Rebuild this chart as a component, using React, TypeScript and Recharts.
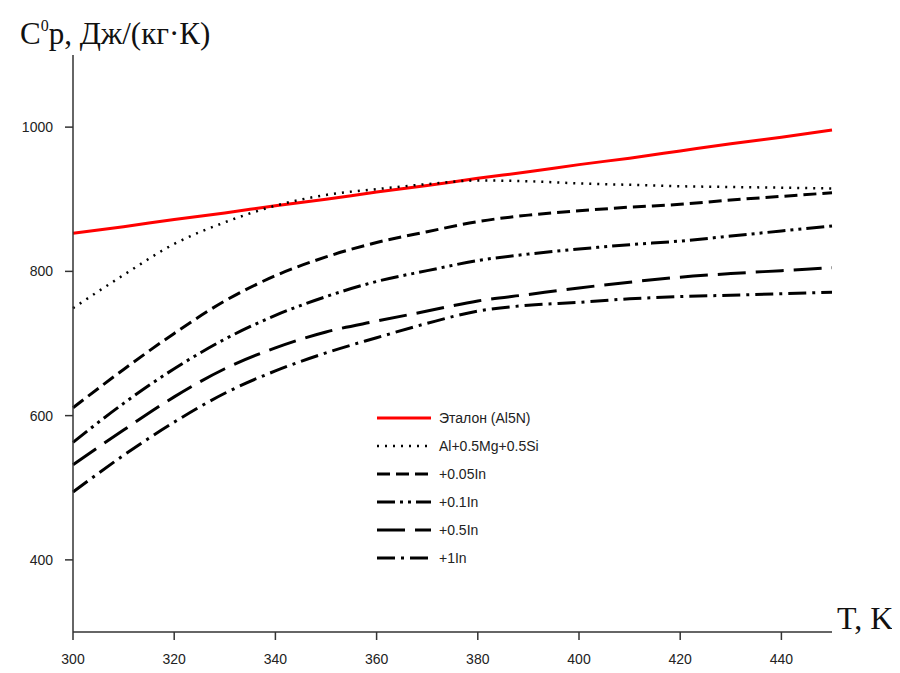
import { LineChart, Line, XAxis, YAxis } from 'recharts'

const temps = [300, 310, 320, 330, 340, 350, 360, 370, 380, 390, 400, 410, 420, 430, 440, 450]

const etalon = [853, 862, 872, 881, 891, 900, 910, 919, 929, 938, 948, 957, 967, 977, 986, 996]
const alMgSi = [749, 795, 838, 868, 891, 906, 914, 921, 926, 925, 922, 920, 918, 917, 916, 915]
const in005 = [611, 664, 714, 759, 794, 820, 840, 855, 869, 878, 884, 889, 893, 899, 904, 909]
const in01 = [563, 617, 665, 706, 739, 765, 786, 801, 815, 824, 831, 837, 842, 849, 856, 863]
const in05 = [532, 580, 626, 665, 694, 716, 731, 745, 759, 768, 777, 785, 792, 797, 801, 805]
const in1 = [494, 545, 591, 631, 662, 687, 708, 728, 745, 753, 757, 762, 765, 767, 769, 771]

const xTicks = [300, 320, 340, 360, 380, 400, 420, 440]
const yTicks = [400, 600, 800, 1000]

const data = temps.map((t, i) => ({
  t,
  etalon: etalon[i],
  alMgSi: alMgSi[i],
  in005: in005[i],
  in01: in01[i],
  in05: in05[i],
  in1: in1[i],
}))

const series = [
  { key: 'etalon', name: 'Эталон (Al5N)', color: '#ff0000', dash: undefined, width: 3 },
  { key: 'alMgSi', name: 'Al+0.5Mg+0.5Si', color: '#000', dash: '2 6', width: 2.5 },
  { key: 'in005', name: '+0.05In', color: '#000', dash: '13 6', width: 3 },
  { key: 'in01', name: '+0.1In', color: '#000', dash: '18 5 3 5 3 5', width: 3 },
  { key: 'in05', name: '+0.5In', color: '#000', dash: '28 10', width: 3 },
  { key: 'in1', name: '+1In', color: '#000', dash: '18 6 3 6', width: 3 },
]

const font = '"Liberation Sans", Arial, sans-serif'
const serif = '"Liberation Serif", "Times New Roman", serif'
const tickStyle = { fontSize: 14, fill: '#222', fontFamily: font }

function ChartLegend() {
  return (
    <div
      style={{
        position: 'absolute',
        left: 369,
        top: 396,
        fontFamily: font,
        fontSize: 14,
        color: '#222',
      }}
    >
      {series.map((s) => (
        <div key={s.key} style={{ display: 'flex', alignItems: 'center', height: 28 }}>
          <svg width={54} height={10} style={{ marginRight: 8 }}>
            <line
              x1={0}
              y1={5}
              x2={54}
              y2={5}
              stroke={s.color}
              strokeWidth={s.width}
              strokeDasharray={s.dash}
            />
          </svg>
          <span>{s.name}</span>
        </div>
      ))}
    </div>
  )
}

export default function App() {
  return (
    <div style={{ position: 'relative', width: 892, height: 665 }}>
      <div
        style={{
          position: 'absolute',
          left: 12,
          top: 10,
          fontFamily: serif,
          fontSize: 31,
          color: '#111',
          whiteSpace: 'nowrap',
          lineHeight: 1,
        }}
      >
        C<sup style={{ fontSize: 16, verticalAlign: 'top' }}>0</sup>p, Дж/(кг·К)
      </div>
      <div
        style={{
          position: 'absolute',
          left: 829,
          top: 594,
          fontFamily: serif,
          fontSize: 32,
          color: '#111',
          whiteSpace: 'nowrap',
          lineHeight: 1,
        }}
      >
        T, K
      </div>
      <LineChart
        width={892}
        height={665}
        data={data}
        margin={{ top: 47, right: 68, bottom: 11, left: 0 }}
      >
        <XAxis
          dataKey="t"
          type="number"
          domain={[300, 450]}
          ticks={xTicks}
          tick={tickStyle}
          tickSize={8}
          tickMargin={14}
          height={30}
          stroke="#333"
          strokeWidth={1.5}
          interval={0}
        />
        <YAxis
          type="number"
          domain={[300, 1100]}
          ticks={yTicks}
          tick={tickStyle}
          tickSize={8}
          tickMargin={12}
          width={65}
          stroke="#333"
          strokeWidth={1.5}
          interval={0}
        />
        {series.map((s) => (
          <Line
            key={s.key}
            type="monotone"
            dataKey={s.key}
            name={s.name}
            stroke={s.color}
            strokeWidth={s.width}
            strokeDasharray={s.dash}
            dot={false}
            isAnimationActive={false}
          />
        ))}
      </LineChart>
      <ChartLegend />
    </div>
  )
}
